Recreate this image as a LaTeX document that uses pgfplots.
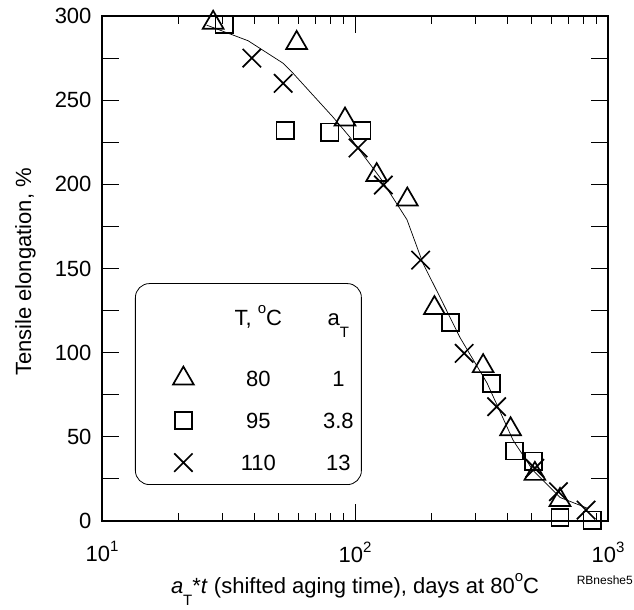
\documentclass[border=0pt]{standalone}
\usepackage{fontspec}
\setmainfont{Liberation Sans}
\usepackage{pgfplots}
\pgfplotsset{compat=1.18}
\newcommand\sups[1]{\raisebox{10bp}{\fontsize{15bp}{15bp}\selectfont #1}}
\newcommand\degsup{\raisebox{12bp}{\fontsize{15bp}{15bp}\selectfont o}}
\newcommand\subs[1]{\raisebox{-12bp}{\fontsize{15bp}{15bp}\selectfont #1}}
\pgfplotstableread{
x y
27.5 296
58.8 284
91.3 238.5
121.8 205.5
161 191
206 126.5
321 92
412 54.5
514 28
646 12.5
}\tri
\pgfplotstableread{
x y
30.4 295
53 232
79.6 231
106.6 232
239 117.8
347 81.8
427 41.6
507 35.6
646 2
865 0.5
}\sqr
\pgfplotstableread{
x y
39.1 275
52 260
102.8 221.6
129.4 199.6
181.7 155
270 99.6
363 67.9
514 31.3
637 17.4
819 6.5
}\crs
\pgfplotstableread{
x y
25.9 294.6
37.8 285.3
51.9 272
56.9 266
81.8 240
95.5 228
104.6 220
125.6 204
160.5 179
185.7 153
216.7 133
260 109
332.5 82
421.5 48
505.5 30
646 14
826 7.7
}\fit
\begin{document}
\fontsize{22bp}{26bp}\selectfont
\begin{tikzpicture}
\useasboundingbox (-102bp,-89bp) rectangle (532bp,521bp);
\begin{axis}[
  at={(0,0)}, anchor=south west,
  scale only axis, width=506bp, height=505bp,
  xmode=log, xmin=10, xmax=1000, ymin=0, ymax=300,
  xtick={10,100,1000},
  xticklabels={10\sups{1},10\sups{2},10\sups{3}},
  ytick={0,25,...,300},
  yticklabels={0,,50,,100,,150,,200,,250,,300},
  /pgf/number format/assume math mode=true,
  tick pos=both, tick align=inside,
  major tick length=17bp, minor tick length=8bp,
  tick style={black, line width=1bp},
  axis line style={line width=1.2bp},
  ticklabel style={font=\fontsize{22bp}{26bp}\selectfont},
  xticklabel style={yshift=-13bp},
  yticklabel style={xshift=-3bp},
  xlabel={\textit{a}\subs{T}*\textit{t} (shifted aging time), days at 80\degsup C},
  ylabel={Tensile elongation, \%},
  label style={font=\fontsize{22bp}{26bp}\selectfont},
  xlabel style={at={(axis description cs:0.5,-0.1426)}, anchor=base},
  ylabel style={at={(axis description cs:-0.1403,0.493)}, anchor=base, rotate=0},
  clip=false,
  legend style={at={(0.0652,0.0713)}, anchor=south west, draw=black,
    line width=0.8bp, rounded corners=14bp, inner xsep=3bp, inner ysep=1bp,
    row sep=0pt, column sep=0pt, nodes={inner sep=0pt, text depth={}},
    cells={anchor=center}, font=\fontsize{22bp}{26bp}\selectfont},
  legend image code/.code={%
    \path[draw=none,fill=none] (0bp,-21bp) rectangle (90bp,21bp);
    \draw[sharp corners,mark repeat=2,mark phase=2,#1] plot coordinates {(0bp,0bp) (45bp,0bp) (90bp,0bp)};},
]
\addlegendimage{legend image code/.code={\path[draw=none,fill=none] (0bp,0bp) rectangle (90bp,1bp);}}
\addlegendentry{\rule[-32bp]{0pt}{73bp}\makebox[60bp]{T, \degsup C}\hspace{30bp}\makebox[40bp]{a\subs{T}}}
\addplot[forget plot, black, line width=0.7bp, sharp plot] table {\fit};
\addplot[only marks, mark=triangle, mark size=12bp, line width=1.7bp, black] table {\tri};
\addlegendentry{\rule[-13.5bp]{0pt}{42bp}\makebox[60bp]{80}\hspace{30bp}\makebox[40bp]{1}}
\addplot[only marks, mark=square, mark size=8.6bp, line width=1.7bp, black] table {\sqr};
\addlegendentry{\rule[-13.5bp]{0pt}{42bp}\makebox[60bp]{95}\hspace{30bp}\makebox[40bp]{3.8}}
\addplot[only marks, mark=x, mark size=13bp, line width=1.7bp, black] table {\crs};
\addlegendentry{\rule[-13.5bp]{0pt}{42bp}\makebox[60bp]{110}\hspace{30bp}\makebox[40bp]{13}}
\end{axis}
\node[anchor=base east, font=\fontsize{12bp}{12bp}\selectfont, inner sep=0pt] at (531bp,-63bp) {RBneshe5};
\end{tikzpicture}
\end{document}
